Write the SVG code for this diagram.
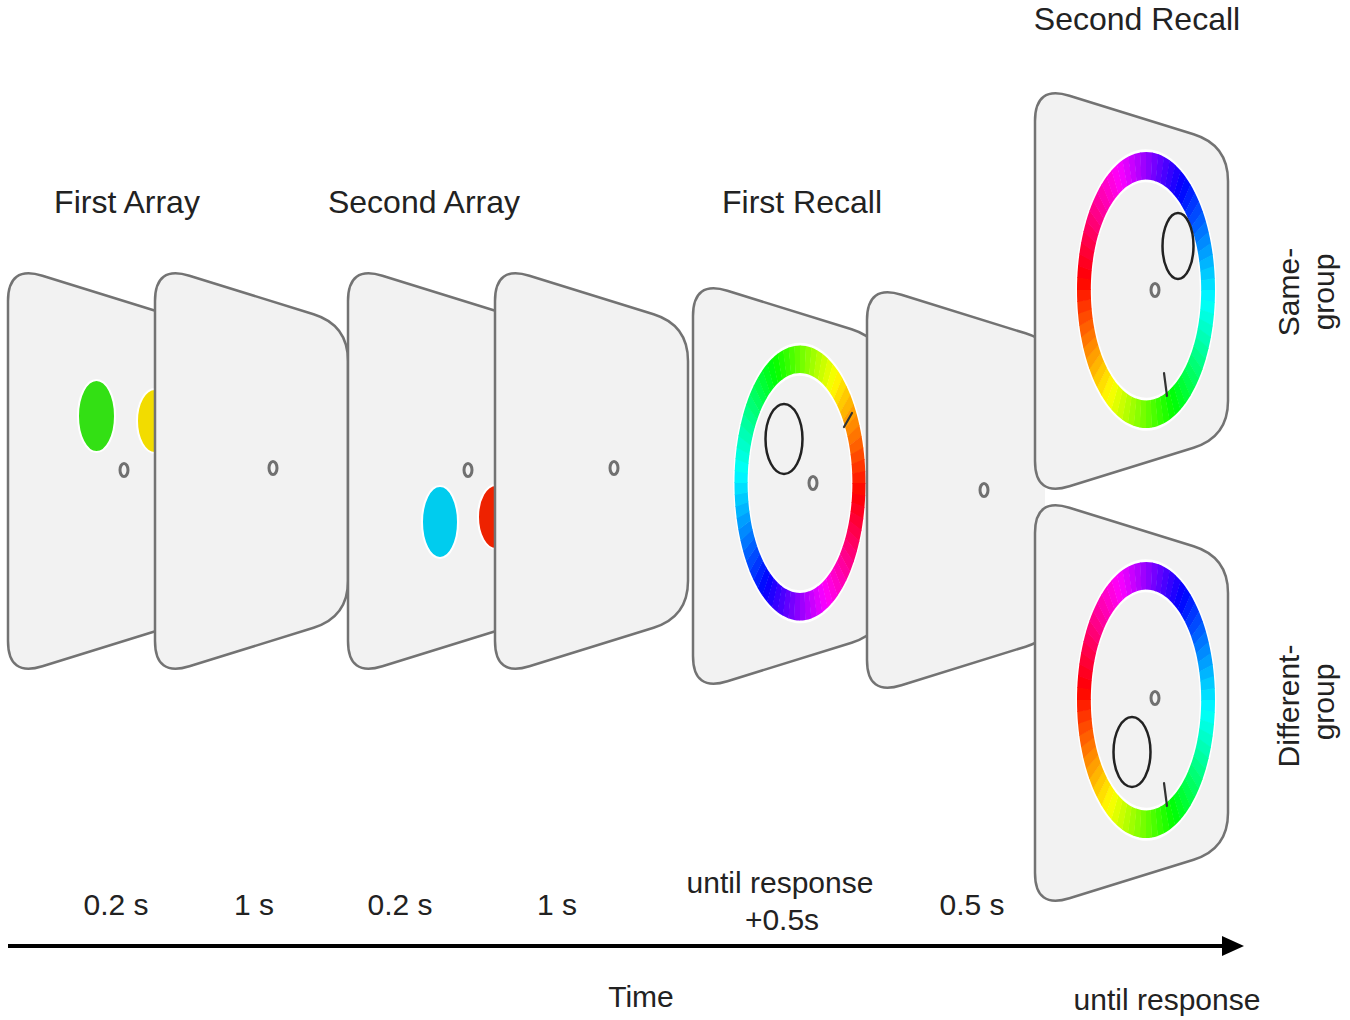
<svg xmlns="http://www.w3.org/2000/svg" xmlns:xlink="http://www.w3.org/1999/xlink" width="1350" height="1020" viewBox="0 0 1350 1020">
<style>
.panel{fill:#f2f2f2;stroke:#737373;stroke-width:2.5}
.fix{fill:#f4f4f4;stroke:#707070;stroke-width:3}
.probe{fill:none;stroke:#222;stroke-width:2.5}
.tick{stroke:#333;stroke-width:2.2;stroke-linecap:round}
.dot{stroke:#fff;stroke-width:2}
.seg{fill:none;stroke-width:20;stroke-dasharray:8.4 600}
.t{font-family:"Liberation Sans",Arial,Helvetica,sans-serif;fill:#222;text-anchor:middle}
.title{font-size:32px}
.lab{font-size:30px}
</style>
<defs>
<path id="panel" d="M0,36 Q0,0 34.4,10.7 L158.6,49.3 Q193,60 193,96 L193,316 Q193,352 158.6,362.7 L34.4,401.3 Q0,412 0,376 Z"/>
<clipPath id="behind-right"><rect x="0" y="0" width="1045" height="1020"/></clipPath>
<marker id="arrow" viewBox="0 0 5.5 5" refX="0" refY="2.5" markerWidth="5.5" markerHeight="5" orient="auto" markerUnits="strokeWidth">
<path d="M0,0 L5.5,2.5 L0,5 Z" fill="#000"/>
</marker>
<g id="wheel">
<circle r="90" fill="none" stroke="#fff" stroke-width="24"/>
<circle class="seg" r="90" transform="rotate(0)" stroke="hsl(357.5,100%,50%)"/>
<circle class="seg" r="90" transform="rotate(5)" stroke="hsl(352.5,100%,50%)"/>
<circle class="seg" r="90" transform="rotate(10)" stroke="hsl(347.5,100%,50%)"/>
<circle class="seg" r="90" transform="rotate(15)" stroke="hsl(342.5,100%,50%)"/>
<circle class="seg" r="90" transform="rotate(20)" stroke="hsl(337.5,100%,50%)"/>
<circle class="seg" r="90" transform="rotate(25)" stroke="hsl(332.5,100%,50%)"/>
<circle class="seg" r="90" transform="rotate(30)" stroke="hsl(327.5,100%,50%)"/>
<circle class="seg" r="90" transform="rotate(35)" stroke="hsl(322.5,100%,50%)"/>
<circle class="seg" r="90" transform="rotate(40)" stroke="hsl(317.5,100%,50%)"/>
<circle class="seg" r="90" transform="rotate(45)" stroke="hsl(312.5,100%,50%)"/>
<circle class="seg" r="90" transform="rotate(50)" stroke="hsl(307.5,100%,50%)"/>
<circle class="seg" r="90" transform="rotate(55)" stroke="hsl(302.5,100%,50%)"/>
<circle class="seg" r="90" transform="rotate(60)" stroke="hsl(297.5,100%,50%)"/>
<circle class="seg" r="90" transform="rotate(65)" stroke="hsl(292.5,100%,50%)"/>
<circle class="seg" r="90" transform="rotate(70)" stroke="hsl(287.5,100%,50%)"/>
<circle class="seg" r="90" transform="rotate(75)" stroke="hsl(282.5,100%,50%)"/>
<circle class="seg" r="90" transform="rotate(80)" stroke="hsl(277.5,100%,50%)"/>
<circle class="seg" r="90" transform="rotate(85)" stroke="hsl(272.5,100%,50%)"/>
<circle class="seg" r="90" transform="rotate(90)" stroke="hsl(267.5,100%,50%)"/>
<circle class="seg" r="90" transform="rotate(95)" stroke="hsl(262.5,100%,50%)"/>
<circle class="seg" r="90" transform="rotate(100)" stroke="hsl(257.5,100%,50%)"/>
<circle class="seg" r="90" transform="rotate(105)" stroke="hsl(252.5,100%,50%)"/>
<circle class="seg" r="90" transform="rotate(110)" stroke="hsl(247.5,100%,50%)"/>
<circle class="seg" r="90" transform="rotate(115)" stroke="hsl(242.5,100%,50%)"/>
<circle class="seg" r="90" transform="rotate(120)" stroke="hsl(237.5,100%,50%)"/>
<circle class="seg" r="90" transform="rotate(125)" stroke="hsl(232.5,100%,50%)"/>
<circle class="seg" r="90" transform="rotate(130)" stroke="hsl(227.5,100%,50%)"/>
<circle class="seg" r="90" transform="rotate(135)" stroke="hsl(222.5,100%,50%)"/>
<circle class="seg" r="90" transform="rotate(140)" stroke="hsl(217.5,100%,50%)"/>
<circle class="seg" r="90" transform="rotate(145)" stroke="hsl(212.5,100%,50%)"/>
<circle class="seg" r="90" transform="rotate(150)" stroke="hsl(207.5,100%,50%)"/>
<circle class="seg" r="90" transform="rotate(155)" stroke="hsl(202.5,100%,50%)"/>
<circle class="seg" r="90" transform="rotate(160)" stroke="hsl(197.5,100%,50%)"/>
<circle class="seg" r="90" transform="rotate(165)" stroke="hsl(192.5,100%,50%)"/>
<circle class="seg" r="90" transform="rotate(170)" stroke="hsl(187.5,100%,50%)"/>
<circle class="seg" r="90" transform="rotate(175)" stroke="hsl(182.5,100%,50%)"/>
<circle class="seg" r="90" transform="rotate(180)" stroke="hsl(177.5,100%,50%)"/>
<circle class="seg" r="90" transform="rotate(185)" stroke="hsl(172.5,100%,50%)"/>
<circle class="seg" r="90" transform="rotate(190)" stroke="hsl(167.5,100%,50%)"/>
<circle class="seg" r="90" transform="rotate(195)" stroke="hsl(162.5,100%,50%)"/>
<circle class="seg" r="90" transform="rotate(200)" stroke="hsl(157.5,100%,50%)"/>
<circle class="seg" r="90" transform="rotate(205)" stroke="hsl(152.5,100%,50%)"/>
<circle class="seg" r="90" transform="rotate(210)" stroke="hsl(147.5,100%,50%)"/>
<circle class="seg" r="90" transform="rotate(215)" stroke="hsl(142.5,100%,50%)"/>
<circle class="seg" r="90" transform="rotate(220)" stroke="hsl(137.5,100%,50%)"/>
<circle class="seg" r="90" transform="rotate(225)" stroke="hsl(132.5,100%,50%)"/>
<circle class="seg" r="90" transform="rotate(230)" stroke="hsl(127.5,100%,50%)"/>
<circle class="seg" r="90" transform="rotate(235)" stroke="hsl(122.5,100%,50%)"/>
<circle class="seg" r="90" transform="rotate(240)" stroke="hsl(117.5,100%,50%)"/>
<circle class="seg" r="90" transform="rotate(245)" stroke="hsl(112.5,100%,50%)"/>
<circle class="seg" r="90" transform="rotate(250)" stroke="hsl(107.5,100%,50%)"/>
<circle class="seg" r="90" transform="rotate(255)" stroke="hsl(102.5,100%,50%)"/>
<circle class="seg" r="90" transform="rotate(260)" stroke="hsl(97.5,100%,50%)"/>
<circle class="seg" r="90" transform="rotate(265)" stroke="hsl(92.5,100%,50%)"/>
<circle class="seg" r="90" transform="rotate(270)" stroke="hsl(87.5,100%,50%)"/>
<circle class="seg" r="90" transform="rotate(275)" stroke="hsl(82.5,100%,50%)"/>
<circle class="seg" r="90" transform="rotate(280)" stroke="hsl(77.5,100%,50%)"/>
<circle class="seg" r="90" transform="rotate(285)" stroke="hsl(72.5,100%,50%)"/>
<circle class="seg" r="90" transform="rotate(290)" stroke="hsl(67.5,100%,50%)"/>
<circle class="seg" r="90" transform="rotate(295)" stroke="hsl(62.5,100%,50%)"/>
<circle class="seg" r="90" transform="rotate(300)" stroke="hsl(57.5,100%,50%)"/>
<circle class="seg" r="90" transform="rotate(305)" stroke="hsl(52.5,100%,50%)"/>
<circle class="seg" r="90" transform="rotate(310)" stroke="hsl(47.5,100%,50%)"/>
<circle class="seg" r="90" transform="rotate(315)" stroke="hsl(42.5,100%,50%)"/>
<circle class="seg" r="90" transform="rotate(320)" stroke="hsl(37.5,100%,50%)"/>
<circle class="seg" r="90" transform="rotate(325)" stroke="hsl(32.5,100%,50%)"/>
<circle class="seg" r="90" transform="rotate(330)" stroke="hsl(27.5,100%,50%)"/>
<circle class="seg" r="90" transform="rotate(335)" stroke="hsl(22.5,100%,50%)"/>
<circle class="seg" r="90" transform="rotate(340)" stroke="hsl(17.5,100%,50%)"/>
<circle class="seg" r="90" transform="rotate(345)" stroke="hsl(12.5,100%,50%)"/>
<circle class="seg" r="90" transform="rotate(350)" stroke="hsl(7.5,100%,50%)"/>
<circle class="seg" r="90" transform="rotate(355)" stroke="hsl(2.5,100%,50%)"/>
</g>
</defs>
<rect width="1350" height="1020" fill="#fff"/>

<g id="titles">
<text class="t title" x="127" y="213">First Array</text>
<text class="t title" x="424" y="213">Second Array</text>
<text class="t title" x="802" y="213">First Recall</text>
<text class="t title" x="1137" y="30">Second Recall</text>
</g>

<g id="p1-first-array">
<use href="#panel" class="panel" transform="translate(8,265)"/>
<ellipse class="dot" cx="96.5" cy="416" rx="18.5" ry="36" fill="#33e014"/>
<ellipse class="dot" cx="155" cy="421" rx="18" ry="32" fill="#f2dc00"/>
<ellipse class="fix" cx="124" cy="470" rx="4" ry="6.5"/>
</g>
<g id="p2-blank">
<use href="#panel" class="panel" transform="translate(155,265)"/>
<ellipse class="fix" cx="273" cy="468" rx="4" ry="6.5"/>
</g>
<g id="p3-second-array">
<use href="#panel" class="panel" transform="translate(348,265)"/>
<ellipse class="fix" cx="468" cy="470" rx="4" ry="6.5"/>
<ellipse class="dot" cx="440" cy="522" rx="18" ry="36" fill="#00ccee"/>
<ellipse class="dot" cx="496" cy="517" rx="18" ry="32" fill="#ee2200"/>
</g>
<g id="p4-blank">
<use href="#panel" class="panel" transform="translate(495,265)"/>
<ellipse class="fix" cx="614" cy="468" rx="4" ry="6.5"/>
</g>
<g id="p5-first-recall">
<use href="#panel" class="panel" transform="translate(693,280)"/>
<use href="#wheel" transform="translate(800,483) scale(0.655,1.375) rotate(5)"/>
<ellipse class="probe" cx="784" cy="439" rx="18.5" ry="35"/>
<ellipse class="fix" cx="813" cy="483" rx="4" ry="6.5"/>
<line class="tick" x1="844" y1="427" x2="852" y2="413"/>
</g>
<g id="p6-blank" clip-path="url(#behind-right)">
<use href="#panel" class="panel" transform="translate(867,284)"/>
<ellipse class="fix" cx="984" cy="490" rx="4" ry="6.5"/>
</g>
<g id="p8-second-recall-different">
<use href="#panel" class="panel" transform="translate(1035,497)"/>
<use href="#wheel" transform="translate(1146,700) scale(0.69,1.38) rotate(185)"/>
<ellipse class="probe" cx="1132" cy="752" rx="18.5" ry="35"/>
<ellipse class="fix" cx="1155" cy="698" rx="4" ry="6.5"/>
<line class="tick" x1="1164" y1="783" x2="1167" y2="806"/>
</g>
<g id="p7-second-recall-same">
<use href="#panel" class="panel" transform="translate(1035,85)"/>
<use href="#wheel" transform="translate(1146,290) scale(0.69,1.38) rotate(185)"/>
<ellipse class="probe" cx="1178" cy="246" rx="15.5" ry="33"/>
<ellipse class="fix" cx="1155" cy="290" rx="4" ry="6.5"/>
<line class="tick" x1="1164" y1="373" x2="1167" y2="396"/>
</g>

<g id="side-labels">
<text class="t lab" transform="translate(1299,292) rotate(-90)">Same-</text>
<text class="t lab" transform="translate(1334,292) rotate(-90)">group</text>
<text class="t lab" transform="translate(1299,706) rotate(-90)">Different-</text>
<text class="t lab" transform="translate(1334,702) rotate(-90)">group</text>
</g>

<g id="connectors">
<line x1="8" y1="946" x2="1222" y2="946" stroke="#000" stroke-width="4" marker-end="url(#arrow)"/>
</g>

<g id="timing-labels">
<text class="t lab" x="116" y="915">0.2 s</text>
<text class="t lab" x="254" y="915">1 s</text>
<text class="t lab" x="400" y="915">0.2 s</text>
<text class="t lab" x="557" y="915">1 s</text>
<text class="t lab" x="780" y="893">until response</text>
<text class="t lab" x="782" y="930">+0.5s</text>
<text class="t lab" x="972" y="915">0.5 s</text>
<text class="t lab" x="641" y="1007">Time</text>
<text class="t lab" x="1167" y="1010">until response</text>
</g>
</svg>
